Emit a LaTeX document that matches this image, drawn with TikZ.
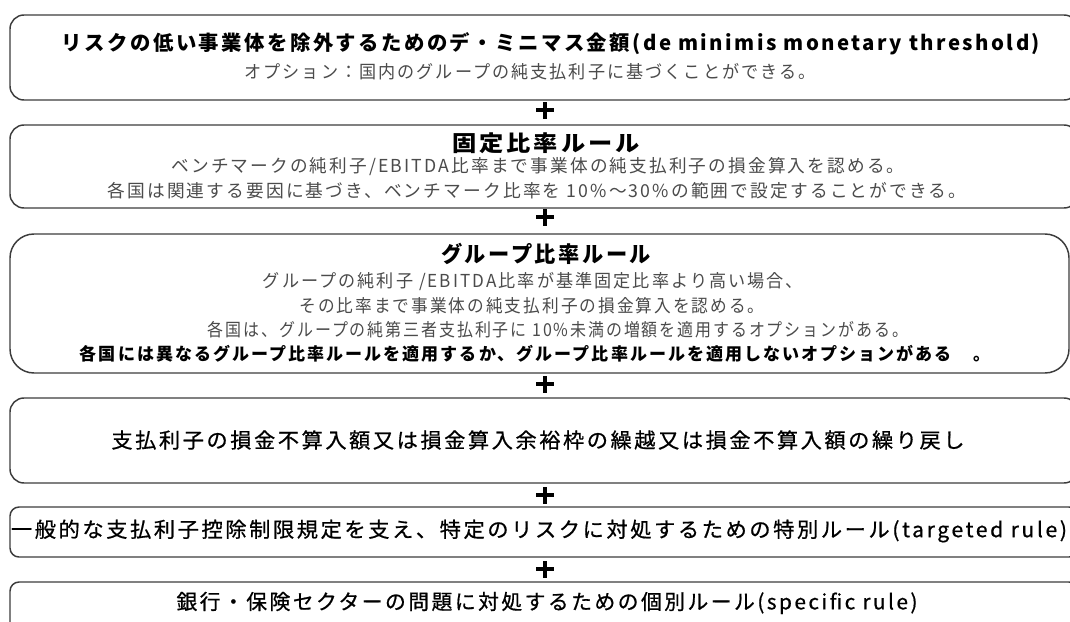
\documentclass[tikz,border=0pt]{standalone}
\usepackage{fontspec}
\usepackage{graphicx}
\setmainfont{Noto Sans CJK JP}
\newfontfamily\subfont[LetterSpace=12]{Noto Sans CJK JP}
\newfontfamily\ttlfont[LetterSpace=12]{Noto Sans CJK JP}
\newfontfamily\medfont[LetterSpace=12,FakeBold=0.7]{Noto Sans CJK JP}
\newlength\pxu \setlength\pxu{0.75pt}
\newcommand\fitw[2]{\resizebox{#1\pxu}{\height}{#2}}
\definecolor{subgray}{RGB}{75,75,75}
\definecolor{edgegray}{RGB}{60,60,60}
\tikzset{
  box/.style={draw=edgegray, line width=1.1pt, fill=white, inner sep=0pt},
  ttl/.style={inner sep=0pt, text=black, font=\ttlfont\bfseries\fontsize{16.5pt}{19pt}\selectfont},
  ttlone/.style={inner sep=0pt, text=black, font=\ttlfont\bfseries\fontsize{15.3pt}{18pt}\selectfont},
  sub/.style={inner sep=0pt, text=subgray, font=\subfont\fontsize{13.4pt}{15pt}\selectfont},
  subbold/.style={inner sep=0pt, text=black, font=\subfont\bfseries\fontsize{13pt}{15pt}\selectfont},
  big/.style={inner sep=0pt, text=black, font=\medfont\fontsize{15.6pt}{18pt}\selectfont},
  plussign/.pic={\fill[black] (-9,-2) rectangle (9,2); \fill[black] (-2,-8.5) rectangle (2,8.5);}
}
\begin{document}
\begin{tikzpicture}[x=0.75pt,y=-0.75pt]
\useasboundingbox (0,0) rectangle (1070,621);
\clip (0,0) rectangle (1070,621);
\fill[white] (0,0) rectangle (1070,621);
% boxes
\node[box, minimum width=801pt, minimum height=63.75pt, rounded corners=10.5pt] (b1) at (544,57.5) {};
\node[box, minimum width=801pt, minimum height=62.25pt, rounded corners=10.5pt] (b2) at (544,166.5) {};
\node[box, minimum width=794.25pt, minimum height=104.25pt, rounded corners=18pt] (b3) at (539.5,303.5) {};
\node[box, minimum width=801pt, minimum height=63.75pt, rounded corners=10.5pt] (b4) at (544,440.5) {};
\node[box, minimum width=801pt, minimum height=37.5pt, rounded corners=6.75pt] (b5) at (544,532) {};
\node[box, minimum width=801pt, minimum height=58.5pt, rounded corners=6.75pt] (b6) at (544,621) {};
% plus signs
\pic (p1) at (545,110) {plussign};
\pic (p2) at (545,217) {plussign};
\pic (p3) at (545,384) {plussign};
\pic (p4) at (545,495) {plussign};
\pic (p5) at (545,569) {plussign};
% box 1
\node[ttlone] (t1) at (551,44) {\fitw{978}{リスクの低い事業体を除外するためのデ・ミニマス金額(de minimis monetary threshold)}};
\node[sub] (s1) at (530,72) {\fitw{571}{オプション：国内のグループの純支払利子に基づくことができる。}};
% box 2
\node[ttl] (t2) at (546,143) {\fitw{187}{固定比率ルール}};
\node[sub] (s2a) at (538,167) {\fitw{733}{ベンチマークの純利子/EBITDA比率まで事業体の純支払利子の損金算入を認める。}};
\node[sub] (s2b) at (537,191) {\fitw{859}{各国は関連する要因に基づき、ベンチマーク比率を 10\%～30\%の範囲で設定することができる。}};
% box 3
\node[ttl] (t3) at (546,254) {\fitw{210}{グループ比率ルール}};
\node[sub] (s3a) at (533,282) {\fitw{540}{グループの純利子 /EBITDA比率が基準固定比率より高い場合、}};
\node[sub] (s3b) at (532,306) {\fitw{465}{その比率まで事業体の純支払利子の損金算入を認める。}};
\node[sub] (s3c) at (558,330) {\fitw{700}{各国は、グループの純第三者支払利子に 10\%未満の増額を適用するオプションがある。}};
\node[subbold] (s3d) at (535,354) {\fitw{910}{各国には異なるグループ比率ルールを適用するか、グループ比率ルールを適用しないオプションがある　。}};
% box 4
\node[big] (t4) at (538,440) {\fitw{853}{支払利子の損金不算入額又は損金算入余裕枠の繰越又は損金不算入額の繰り戻し}};
% box 5
\node[big] (t5) at (539,531) {\fitw{1056}{一般的な支払利子控除制限規定を支え、特定のリスクに対処するための特別ルール(targeted rule)}};
% box 6
\node[big] (t6) at (547,603) {\fitw{741}{銀行・保険セクターの問題に対処するための個別ルール(specific rule)}};
\end{tikzpicture}
\end{document}
